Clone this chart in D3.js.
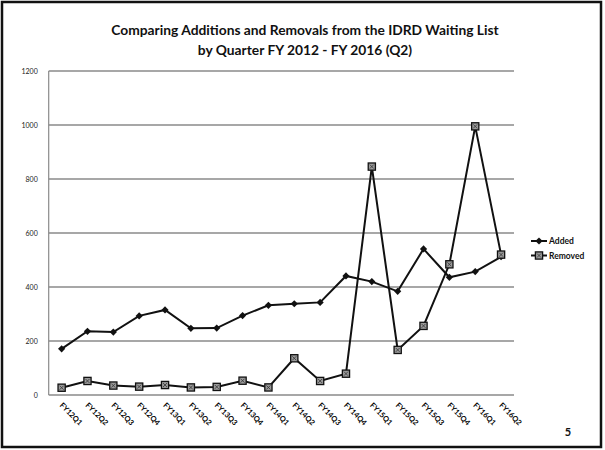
<!DOCTYPE html>
<html><head><meta charset="utf-8">
<script src="https://cdn.jsdelivr.net/npm/d3@7"></script>
<style>body{margin:0;background:#fff;}svg{display:block;}</style>
</head><body>
<svg id="c" width="605" height="450"></svg>
<script>
const categories = ["FY12Q1","FY12Q2","FY12Q3","FY12Q4","FY13Q1","FY13Q2","FY13Q3","FY13Q4","FY14Q1","FY14Q2","FY14Q3","FY14Q4","FY15Q1","FY15Q2","FY15Q3","FY15Q4","FY16Q1","FY16Q2"];
const added   = [171,236,233,293,315,247,248,294,332,338,343,441,420,384,541,436,457,512];
const removed = [27,52,35,31,37,28,30,53,28,136,52,79,846,167,256,484,995,520];
const yTicks = [0,200,400,600,800,1000,1200];
const titleLines = ["Comparing Additions and Removals from the IDRD Waiting List","by Quarter FY 2012 - FY 2016 (Q2)"];
const seriesNames = ["Added","Removed"];

const svg = d3.select("#c");
const font = "Lato, 'Open Sans', sans-serif";

// frame
svg.append("rect").attr("x",2).attr("y",2).attr("width",599).attr("height",445)
  .attr("fill","none").attr("stroke","#111").attr("stroke-width",2.5);

const x = d3.scalePoint().domain(categories).range([48.7,514]).padding(0.5);
const y = d3.scaleLinear().domain([0,1200]).range([395,71]);

// gridlines
svg.append("g").selectAll("line").data(yTicks).join("line")
  .attr("x1",48.7).attr("x2",514).attr("y1",d=>y(d)).attr("y2",d=>y(d))
  .attr("stroke","#8a8a8a").attr("stroke-width",1.3);
svg.append("line").attr("x1",48.7).attr("x2",48.7).attr("y1",y(1200)).attr("y2",y(0))
  .attr("stroke","#8a8a8a").attr("stroke-width",1.2);

// y labels
const yAxis = d3.axisLeft(y).tickValues(yTicks).tickSize(0).tickPadding(11).tickFormat(d3.format("d"));
const gy = svg.append("g").attr("transform","translate(48.7,0)").call(yAxis);
gy.select(".domain").remove();
gy.selectAll("text").attr("font-family",font).attr("font-size",7).attr("fill","#222");

// x labels
const xAxis = d3.axisBottom(x).tickSize(0).tickPadding(0);
const gx = svg.append("g").attr("transform","translate(0,395)").call(xAxis);
gx.select(".domain").remove();
gx.selectAll("text").attr("font-family",font).attr("font-size",7.5).attr("font-weight","bold").attr("fill","#000")
  .attr("text-anchor","start").attr("y",0).attr("dy","0.35em")
  .attr("transform","translate(-1,9) rotate(45)");

// lines
const line = d3.line().x((d,i)=>x(categories[i])).y(d=>y(d));
svg.append("path").datum(added).attr("d",line).attr("fill","none").attr("stroke","#111").attr("stroke-width",2);
svg.append("path").datum(removed).attr("d",line).attr("fill","none").attr("stroke","#111").attr("stroke-width",2);

// markers
function diamond(g){ g.append("path").attr("d","M0,-3.6L3.6,0L0,3.6L-3.6,0Z").attr("fill","#111"); }
function square(g){
  g.append("rect").attr("x",-3.6).attr("y",-3.6).attr("width",7.2).attr("height",7.2)
    .attr("fill","#9a9a9a").attr("stroke","#111").attr("stroke-width",1.3);
  g.append("path").attr("d","M-2,-2L2,2M-2,2L2,-2").attr("stroke","#333").attr("stroke-width",0.8);
}
svg.append("g").selectAll("g").data(added).join("g")
  .attr("transform",(d,i)=>`translate(${x(categories[i])},${y(d)})`).each(function(){diamond(d3.select(this));});
svg.append("g").selectAll("g").data(removed).join("g")
  .attr("transform",(d,i)=>`translate(${x(categories[i])},${y(d)})`).each(function(){square(d3.select(this));});

// legend
const lg = svg.append("g").attr("transform","translate(531,241)");
seriesNames.forEach((n,i)=>{
  const g = lg.append("g").attr("transform",`translate(0,${i*14.5})`);
  g.append("line").attr("x1",0).attr("x2",16).attr("stroke","#111").attr("stroke-width",2);
  const m = g.append("g").attr("transform","translate(8,0)");
  if(i===0) diamond(m); else square(m);
  g.append("text").attr("x",18).attr("y",3).attr("font-family",font).attr("font-size",8.5)
    .attr("font-weight","bold").attr("fill","#111").text(n);
});

// title
const tys = [35,55];
let fs = 16;
titleLines.forEach((t,i)=>{
  const el = svg.append("text").attr("x",305).attr("y",tys[i]).attr("text-anchor","middle")
    .attr("font-family",font).attr("font-weight","bold").attr("font-size",16).attr("fill","#111").text(t);
  if(i===0){
    const w = el.node().getComputedTextLength();
    fs = 16*388/w;
  }
  el.attr("font-size",fs);
});

// page number
svg.append("text").attr("x",568).attr("y",436).attr("text-anchor","middle")
  .attr("font-family",font).attr("font-size",11).attr("font-weight","bold").attr("fill","#111").text("5");
</script>
</body></html>
